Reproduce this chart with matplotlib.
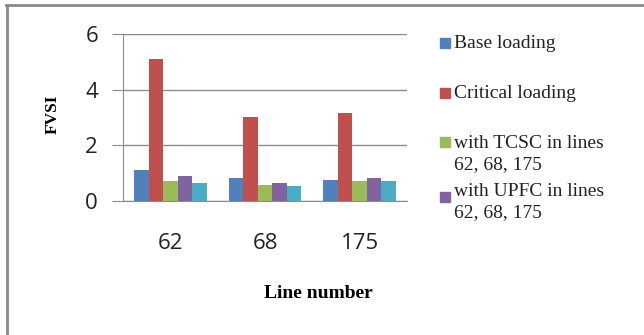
import matplotlib
matplotlib.use("Agg")
import matplotlib.pyplot as plt
from matplotlib.patches import Rectangle
from matplotlib.lines import Line2D
import numpy as np

lines = ["62", "68", "175"]
base = [1.13, 0.81, 0.76]
critical = [5.11, 3.03, 3.16]
tcsc = [0.71, 0.58, 0.71]
upfc = [0.90, 0.66, 0.81]
other = [0.63, 0.53, 0.71]

labels = ["Base loading", "Critical loading",
          "with TCSC in lines\n62, 68, 175", "with UPFC in lines\n62, 68, 175"]
colors = ["#4F81BD", "#C0504D", "#9BBB59", "#8064A2", "#4BACC6"]
grid_c = "#8C8C8C"

fig = plt.figure(figsize=(6.44, 3.35), dpi=100)
ax = fig.add_axes([0.191, 0.40, 0.441, 0.4985])

series = [base, critical, tcsc, upfc, other]
x = np.arange(len(lines))
w = 0.153
for i, vals in enumerate(series):
    ax.bar(x + (i - 2) * w, vals, width=w, color=colors[i], zorder=3)

ax.set_xlim(-0.5, 2.5)
ax.set_ylim(0, 6)
ax.set_yticks([0, 2, 4, 6])
ax.set_xticks(x)
ax.set_xticklabels(lines)
ax.yaxis.grid(True, color=grid_c, linewidth=1)
ax.set_axisbelow(True)
for s in ["top", "right"]:
    ax.spines[s].set_visible(False)
ax.spines["left"].set_color(grid_c)
ax.spines["bottom"].set_color(grid_c)
ax.tick_params(axis="y", length=8, color=grid_c, pad=10, labelsize=16)
ax.tick_params(axis="x", length=0, pad=23, labelsize=16)
for t in ax.get_xticklabels() + ax.get_yticklabels():
    t.set_fontfamily("Open Sans")
    t.set_color("#222222")

fig.text(53 / 644, 1 - 114 / 335, "FVSI", rotation=90, ha="center", va="center",
         fontfamily="Liberation Serif", fontweight="bold", fontsize=12.5)
fig.text(318 / 644, 1 - 293 / 335, "Line number", ha="center", va="center",
         fontfamily="Liberation Serif", fontweight="bold", fontsize=14)

# legend drawn by hand, first line aligned with the marker
text_top = [35, 85, 135, 183]
mark_top = [38, 88, 137, 192]
for lab, c, ty, my in zip(labels, colors, text_top, mark_top):
    fig.patches.append(Rectangle((440 / 644, 1 - (my + 10) / 335), 10 / 644, 10 / 335,
                                 transform=fig.transFigure, color=c))
    fig.text(454 / 644, 1 - ty / 335, lab, ha="left", va="top",
             fontfamily="Liberation Serif", fontsize=14, linespacing=1.35,
             color="#222222")

# outer frame (top and left only)
fig.add_artist(Line2D([6 / 644, 1], [1 - 4.5 / 335, 1 - 4.5 / 335],
                      transform=fig.transFigure, color="#8A8A8A", linewidth=2))
fig.add_artist(Line2D([6.5 / 644, 6.5 / 644], [0, 1 - 4.5 / 335],
                      transform=fig.transFigure, color="#8A8A8A", linewidth=2))

fig.savefig("out.png", dpi=100)
